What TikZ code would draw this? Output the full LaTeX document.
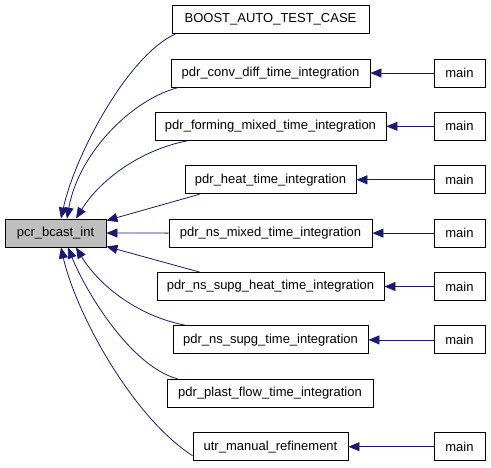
\documentclass[tikz,border=0pt]{standalone}
\usepackage{fontspec}
\setmainfont{Liberation Sans}
\usetikzlibrary{arrows.meta}
\definecolor{edgeblue}{HTML}{191970}
\definecolor{boxgray}{HTML}{BFBFBF}
\tikzset{
  fn/.style={draw=black, line width=0.9pt, fill=white, minimum height=28pt, inner sep=0pt,
    font=\fontsize{13}{15}\selectfont, anchor=center},
  cur/.style={fn, fill=boxgray},
  edge/.style={draw=edgeblue, line width=0.8pt, -{Triangle[length=11pt,width=9pt]}},
}
\begin{document}
\begin{tikzpicture}[x=1pt,y=-1pt]
\useasboundingbox (0,0) rectangle (491,467);
% nodes
\node[cur, minimum width=101pt] (pcr) at (55.5,233) {pcr\_bcast\_int};
\node[fn, minimum width=197pt] (boost) at (270.5,19.5) {BOOST\_AUTO\_TEST\_CASE};
\node[fn, minimum width=199pt] (conv) at (270.5,73) {pdr\_conv\_diff\_time\_integration};
\node[fn, minimum width=231pt] (form) at (270.5,126.3) {pdr\_forming\_mixed\_time\_integration};
\node[fn, minimum width=171pt] (heat) at (270.5,179.8) {pdr\_heat\_time\_integration};
\node[fn, minimum width=203pt] (nsm) at (270.5,233.1) {pdr\_ns\_mixed\_time\_integration};
\node[fn, minimum width=227pt] (nsh) at (270.5,286.5) {pdr\_ns\_supg\_heat\_time\_integration};
\node[fn, minimum width=195pt] (nss) at (270.5,339.9) {pdr\_ns\_supg\_time\_integration};
\node[fn, minimum width=206pt] (plast) at (270,393.3) {pdr\_plast\_flow\_time\_integration};
\node[fn, minimum width=155pt] (utr) at (270.5,446.7) {utr\_manual\_refinement};
\node[fn, minimum width=51pt] (m1) at (459.5,73) {main};
\node[fn, minimum width=51pt] (m2) at (459.5,126.3) {main};
\node[fn, minimum width=51pt] (m3) at (459.5,179.8) {main};
\node[fn, minimum width=51pt] (m4) at (459.5,233.1) {main};
\node[fn, minimum width=51pt] (m5) at (459.5,286.5) {main};
\node[fn, minimum width=51pt] (m6) at (459.5,339.9) {main};
\node[fn, minimum width=51pt] (m7) at (459.5,446.7) {main};
% edges main -> functions
\draw[edge] (m1.west) -- (conv.east);
\draw[edge] (m2.west) -- (form.east);
\draw[edge] (m3.west) -- (heat.east);
\draw[edge] (m4.west) -- (nsm.east);
\draw[edge] (m5.west) -- (nsh.east);
\draw[edge] (m6.west) -- (nss.east);
\draw[edge] (m7.west) -- (utr.east);
% edges functions -> pcr
\draw[edge] ([xshift=4pt]boost.south west) .. controls (128,55) and (75,155) .. ([xshift=5.5pt]pcr.north);
\draw[edge] ([xshift=8pt]conv.south west) .. controls (130,100) and (78,155) .. ([xshift=11.5pt]pcr.north);
\draw[edge] ([xshift=33pt]form.south west) .. controls (140,150) and (100,180) .. ([xshift=20.5pt]pcr.north);
\draw[edge] ([xshift=15pt]heat.south west) -- ([yshift=-2pt]pcr.north east);
\draw[edge] (nsm.west) -- (pcr.east);
\draw[edge] ([xshift=43pt]nsh.north west) -- ([yshift=1pt]pcr.south east);
\draw[edge] ([xshift=14pt]nss.north west) .. controls (140,317) and (100,287) .. ([xshift=20.5pt]pcr.south);
\draw[edge] ([xshift=11pt]plast.north west) .. controls (130,366) and (85,290) .. ([xshift=12.5pt]pcr.south);
\draw[edge] ([yshift=-9pt]utr.west) .. controls (130,415) and (75,310) .. ([xshift=5.5pt]pcr.south);
\end{tikzpicture}
\end{document}
